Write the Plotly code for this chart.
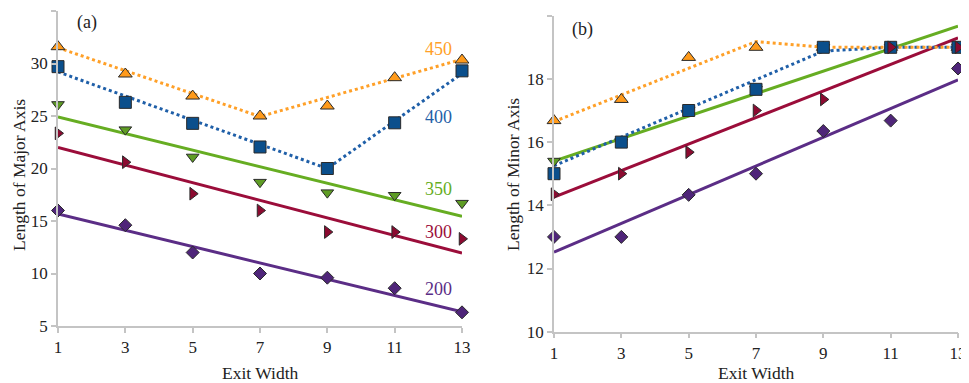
import plotly.graph_objects as go

exit_width = [1, 3, 5, 7, 9, 11, 13]

# panel (a): length of major axis
major_200 = [16.0, 14.6, 12.0, 10.0, 9.6, 8.6, 6.3]
major_300 = [23.35, 20.6, 17.6, 16.0, 13.95, 13.95, 13.3]
major_350 = [26.1, 23.7, 21.1, 18.7, 17.7, 17.45, 16.7]
major_400 = [29.7, 26.3, 24.3, 22.05, 20.0, 24.35, 29.3]
major_450 = [31.6, 29.0, 26.9, 25.0, 25.95, 28.65, 30.33]

# trend lines of panel (a)
trend_a_x = [1, 13]
trend_a_200 = [15.67, 6.35]
trend_a_300 = [22.0, 11.95]
trend_a_350 = [24.9, 15.45]
fit_a_400_x = [1, 9, 13]
fit_a_400 = [29.2, 20.0, 29.05]
fit_a_450_x = [1, 7, 13]
fit_a_450 = [31.5, 24.95, 30.4]

# panel (b): length of minor axis
minor_200 = [13.0, 13.0, 14.33, 15.0, 16.35, 16.68, 18.33]
minor_300 = [14.35, 15.0, 15.68, 17.0, 17.35, 19.0, 19.0]
minor_350 = [15.4, 16.0, 17.0, 17.67, 19.0, 19.0, 19.0]
minor_400 = [15.0, 16.0, 17.0, 17.67, 19.0, 19.0, 19.0]
minor_450 = [16.68, 17.35, 18.68, 19.0, 19.0, 19.0, 19.0]

trend_b_x = [1, 13]
trend_b_200 = [12.52, 17.97]
trend_b_300 = [14.26, 19.3]
trend_b_350 = [15.4, 19.67]
fit_b_400_x = [1, 9, 11, 13]
fit_b_400 = [15.25, 18.88, 19.0, 19.0]
fit_b_450_x = [1, 7, 9, 11, 13]
fit_b_450 = [16.65, 19.18, 19.0, 19.0, 19.0]

series_labels = ["200", "300", "350", "400", "450"]
label_y_a = [8.5, 13.95, 18.05, 24.9, 31.4]

line_col = {"200": "#5b2d86", "300": "#9b0d3a", "350": "#66ad22", "400": "#1f5fa8", "450": "#ffa028"}
mark_col = {"200": "#4f2579", "300": "#8c0a30", "350": "#5e9c24", "400": "#0b4f8c", "450": "#ff9a1a"}
symbols = {"200": "diamond", "300": "triangle-right", "350": "triangle-down", "400": "square", "450": "triangle-up"}
msize = {"200": 10, "300": 11, "350": 11, "400": 12, "450": 12}

FONT = "Liberation Serif, Times New Roman, DejaVu Serif, serif"

# the page body adds an 8px margin, so the figure is offset by it
W, H, OFF = 961, 375, 8


def px(x):
    return (x - OFF) / W


def py(y):
    return 1 - (y - OFF) / H


fig = go.Figure()


def add_line(x, y, key, xa, ya, dotted):
    fig.add_trace(go.Scatter(
        x=x, y=y, mode="lines", xaxis=xa, yaxis=ya, showlegend=False,
        line=dict(color=line_col[key], width=3, dash="dot" if dotted else "solid"),
    ))


def add_marks(y, key, xa, ya):
    fig.add_trace(go.Scatter(
        x=exit_width, y=y, mode="markers", xaxis=xa, yaxis=ya, showlegend=False, cliponaxis=False,
        marker=dict(symbol=symbols[key], size=msize[key], color=mark_col[key],
                    line=dict(color="#2a2a2a", width=1)),
    ))


# panel (a)
add_line(trend_a_x, trend_a_200, "200", "x", "y", False)
add_line(trend_a_x, trend_a_300, "300", "x", "y", False)
add_line(trend_a_x, trend_a_350, "350", "x", "y", False)
add_line(fit_a_400_x, fit_a_400, "400", "x", "y", True)
add_line(fit_a_450_x, fit_a_450, "450", "x", "y", True)
add_marks(major_450, "450", "x", "y")
add_marks(major_350, "350", "x", "y")
add_marks(major_400, "400", "x", "y")
add_marks(major_300, "300", "x", "y")
add_marks(major_200, "200", "x", "y")

# panel (b)
add_line(trend_b_x, trend_b_200, "200", "x2", "y2", False)
add_line(trend_b_x, trend_b_300, "300", "x2", "y2", False)
add_line(trend_b_x, trend_b_350, "350", "x2", "y2", False)
add_line(fit_b_400_x, fit_b_400, "400", "x2", "y2", True)
add_line(fit_b_450_x, fit_b_450, "450", "x2", "y2", True)
add_marks(minor_450, "450", "x2", "y2")
add_marks(minor_350, "350", "x2", "y2")
add_marks(minor_400, "400", "x2", "y2")
add_marks(minor_300, "300", "x2", "y2")
add_marks(minor_200, "200", "x2", "y2")

axis_common = dict(
    showgrid=False, zeroline=False, showline=True, linecolor="#c4c4c4", linewidth=1.5,
    ticks="outside", tickcolor="#c4c4c4", ticklen=5, tickwidth=1.5, automargin=False,
    tickfont=dict(family=FONT, size=17, color="#222222"),
)

annotations = []
for lab, ly in zip(series_labels, label_y_a):
    annotations.append(dict(x=12.3, y=ly, xref="x", yref="y", text=lab, showarrow=False,
                            font=dict(family=FONT, size=18, color=line_col[lab])))
title_font = dict(family=FONT, size=17.5, color="#222222")
annotations += [
    dict(x=1.85, y=33.9, xref="x", yref="y", text="(a)", showarrow=False,
         font=dict(family=FONT, size=18, color="#222222")),
    dict(x=1.85, y=19.55, xref="x2", yref="y2", text="(b)", showarrow=False,
         font=dict(family=FONT, size=18, color="#222222")),
    dict(x=px(19), y=py(175), xref="paper", yref="paper", text="Length of Major Axis",
         textangle=-90, showarrow=False, xanchor="center", yanchor="middle", font=title_font),
    dict(x=px(513), y=py(174), xref="paper", yref="paper", text="Length of Minor Axis",
         textangle=-90, showarrow=False, xanchor="center", yanchor="middle", font=title_font),
    dict(x=px(260), y=py(373), xref="paper", yref="paper", text="Exit Width",
         showarrow=False, xanchor="center", yanchor="middle", font=title_font),
    dict(x=px(756), y=py(373), xref="paper", yref="paper", text="Exit Width",
         showarrow=False, xanchor="center", yanchor="middle", font=title_font),
]

fig.update_layout(
    template="none",
    width=W, height=H, margin=dict(l=0, r=0, t=0, b=0),
    paper_bgcolor="white", plot_bgcolor="white",
    xaxis=dict(axis_common, domain=[px(58), px(462)], range=[1, 13],
               tickvals=exit_width, anchor="y"),
    yaxis=dict(axis_common, domain=[py(326), py(11)], range=[5, 35],
               tickvals=[5, 10, 15, 20, 25, 30, 35], anchor="x"),
    xaxis2=dict(axis_common, domain=[px(554), px(958)], range=[1, 13],
                tickvals=exit_width, anchor="y2"),
    yaxis2=dict(axis_common, domain=[py(331.7), py(15.7)], range=[10, 20],
                tickvals=[10, 12, 14, 16, 18, 20], anchor="x2"),
    annotations=annotations,
)

fig.write_html("out.html")
